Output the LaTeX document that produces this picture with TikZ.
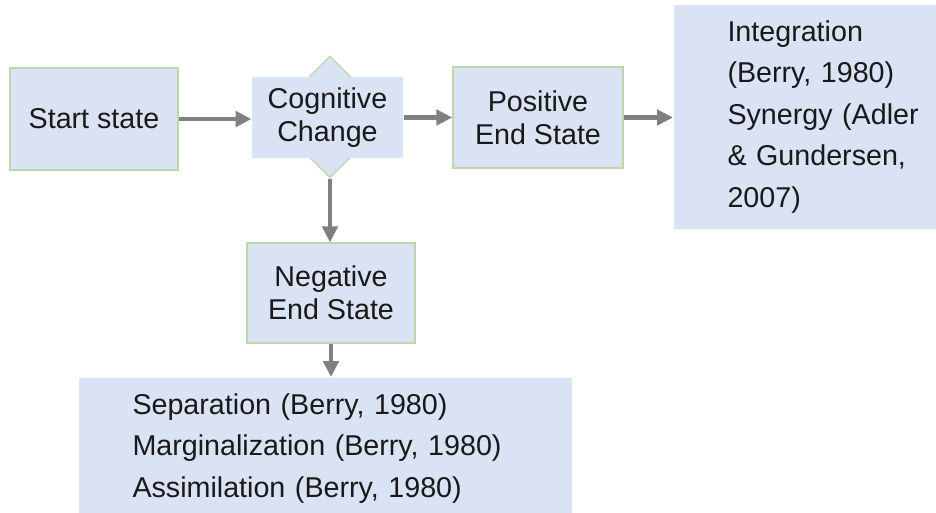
\documentclass[tikz,border=0pt]{standalone}
\usepackage{fontspec}
\setmainfont{Liberation Sans}
\usetikzlibrary{arrows.meta,shapes.geometric}

\definecolor{boxfill}{RGB}{218,227,243}
\definecolor{boxline}{RGB}{190,215,170}
\definecolor{flowgray}{RGB}{128,128,128}
\definecolor{textblack}{RGB}{25,25,25}

\tikzset{every picture/.style={line width=0.75pt}}
\tikzset{
  stepbox/.style={draw=boxline, line width=1pt, fill=boxfill, text=textblack, align=center, inner sep=0pt,
    font=\fontsize{21.5}{24.75}\selectfont},
  plainbox/.style={fill=boxfill, text=textblack, align=center, inner sep=0pt,
    font=\fontsize{21.5}{24.75}\selectfont},
  listbox/.style={fill=boxfill, text=textblack, align=left, inner xsep=40.5pt, inner ysep=4pt,
    font=\fontsize{21.5}{31.1}\selectfont},
  flow/.style={draw=flowgray, line width=3.2pt, -{Triangle[length=12pt,width=11.5pt]}}
}

\begin{document}
\begin{tikzpicture}[x=0.75pt,y=0.75pt,yscale=-1,xscale=1]
\useasboundingbox (0,0) rectangle (936,512);
\clip (0,0) rectangle (936,512);

% Diamond behind the decision box
\draw (330,117) node [shape=diamond, draw=boxline, line width=1pt, fill=boxfill, minimum width=91.5pt, minimum height=91.5pt, inner sep=0pt] (cogdia) {};

% Text Node
\draw (94,119) node [stepbox, minimum width=126pt, minimum height=76.5pt] (start) {Start state};
% Text Node
\draw (327.5,117.5) node [plainbox, minimum width=113.25pt, minimum height=60.75pt] (cog) {Cognitive\\Change};
% Text Node
\draw (538,117.5) node [stepbox, minimum width=127.5pt, minimum height=75.75pt] (pos) {Positive\\End State};
% Text Node
\draw (331,293) node [stepbox, minimum width=126pt, minimum height=75pt] (neg) {Negative\\End State};
% Text Node
\draw (673,117) node [listbox, anchor=west, text width=165pt, minimum height=168pt] (intg) {Integration\\(Berry, 1980)\\Synergy (Adler\\\& Gundersen,\\2007)};
% Text Node
\draw (78,377) node [listbox, anchor=north west, text width=288.75pt, inner ysep=12pt] (sep) {Separation (Berry, 1980)\\Marginalization (Berry, 1980)\\Assimilation (Berry, 1980)};

%Straight Lines
\draw [flow] (start.east) -- (start.east -| cog.west);
%Straight Lines
\draw [flow] (cog.east) -- (pos.west);
%Straight Lines
\draw [flow] (pos.east) -- (pos.east -| intg.west);
%Straight Lines
\draw [flow] (cogdia.south) -- (cogdia.south |- neg.north);
%Straight Lines
\draw [flow] (neg.south) -- (neg.south |- sep.north);

\end{tikzpicture}
\end{document}
